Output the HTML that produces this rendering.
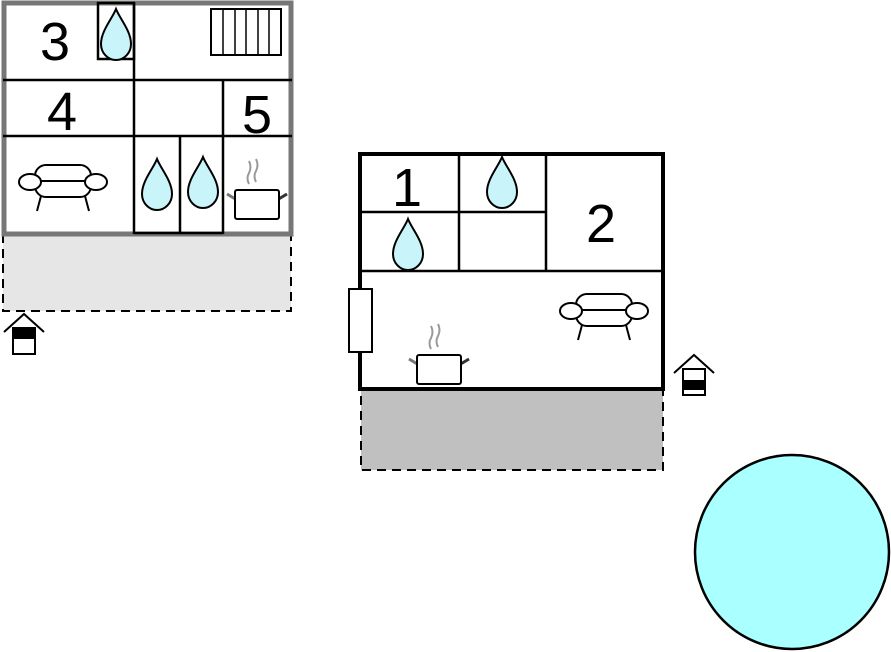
<!DOCTYPE html>
<html><head><style>body{margin:0;background:#fff}svg{display:block}</style></head><body>
<svg width="891" height="652" viewBox="0 0 891 652" xmlns="http://www.w3.org/2000/svg" font-family="Liberation Sans, sans-serif">
<defs>
<path id="drop" d="M0,-26 C-4,-16 -15,-4 -15,9 A15,16 0 0 0 15,9 C15,-4 4,-16 0,-26Z" fill="#c8f4fa" stroke="#000" stroke-width="2"/>
<g id="sofa" fill="#fff" stroke="#000" stroke-width="2">
<line x1="-22" y1="14" x2="-26" y2="29"/><line x1="22" y1="14" x2="26" y2="29"/>
<rect x="-28" y="-17" width="56" height="32" rx="11"/>
<line x1="-28" y1="-1" x2="28" y2="-1"/>
<ellipse cx="-33" cy="0" rx="11" ry="8"/><ellipse cx="33" cy="0" rx="11" ry="8"/>
</g>
<g id="pot">
<path d="M-8,-20 q-3,-6 0,-11 q3,-6 0,-12 M-1,-22 q-3,-6 0,-11 q3,-6 0,-12" fill="none" stroke="#999" stroke-width="2"/>
<line x1="-30" y1="-10" x2="-20" y2="-4" stroke="#777" stroke-width="3"/>
<line x1="20" y1="-4" x2="30" y2="-10" stroke="#333" stroke-width="3"/>
<rect x="-22" y="-14" width="44" height="29" rx="2" fill="#fff" stroke="#000" stroke-width="2"/>
</g>
<g id="house" fill="#fff" stroke="#000" stroke-width="2">
<polyline points="-20,12 0,-6 20,12" fill="none"/>
<rect x="-11" y="8" width="22" height="26"/>
</g>
</defs>

<rect x="3" y="235" width="288" height="76" fill="#e6e6e6" stroke="#000" stroke-width="2" stroke-dasharray="9,6"/>
<rect x="4" y="3" width="287" height="231" fill="#fff" stroke="#777" stroke-width="5"/>
<g stroke="#000" stroke-width="2.5" fill="none">
<line x1="3" y1="80" x2="292" y2="80"/>
<line x1="3" y1="136" x2="292" y2="136"/>
<line x1="134" y1="3" x2="134" y2="234"/>
<line x1="223" y1="80" x2="223" y2="234"/>
<line x1="180" y1="136" x2="180" y2="234"/>
<line x1="134" y1="233" x2="223" y2="233"/>
<rect x="98" y="3" width="36" height="56"/>
<rect x="211" y="9" width="70" height="46" stroke-width="2"/>
</g>
<g stroke="#000" stroke-width="1.5">
<line x1="223" y1="9" x2="223" y2="55"/><line x1="235" y1="9" x2="235" y2="55"/><line x1="246" y1="9" x2="246" y2="55"/><line x1="258" y1="9" x2="258" y2="55"/><line x1="269" y1="9" x2="269" y2="55"/>
</g>
<use href="#drop" x="116" y="35"/>
<use href="#drop" x="157" y="185"/>
<use href="#drop" x="203" y="183"/>
<use href="#sofa" x="63" y="182"/>
<use href="#pot" x="257" y="204"/>
<use href="#house" x="24" y="320"/>
<rect x="13" y="329" width="22" height="10" fill="#000"/>
<text x="55" y="60" font-size="54" text-anchor="middle">3</text>
<text x="62" y="130" font-size="54" text-anchor="middle">4</text>
<text x="257" y="133" font-size="54" text-anchor="middle">5</text>

<rect x="361" y="389" width="302" height="81" fill="#c0c0c0" stroke="#000" stroke-width="2" stroke-dasharray="9,6"/>
<rect x="360" y="154" width="303" height="235" fill="#fff" stroke="#000" stroke-width="4"/>
<g stroke="#000" stroke-width="2.5">
<line x1="360" y1="212" x2="545" y2="212"/>
<line x1="360" y1="271" x2="663" y2="271"/>
<line x1="459" y1="154" x2="459" y2="271"/>
<line x1="546" y1="154" x2="546" y2="271"/>
</g>
<rect x="349" y="289" width="23" height="63" fill="#fff" stroke="#000" stroke-width="2"/>
<use href="#drop" x="502" y="183"/>
<use href="#drop" x="408" y="245"/>
<use href="#sofa" x="604" y="311"/>
<use href="#pot" x="439" y="369"/>
<use href="#house" x="694" y="361"/>
<rect x="683" y="380" width="22" height="10" fill="#000"/>
<text x="407" y="206" font-size="54" text-anchor="middle">1</text>
<text x="601" y="242" font-size="54" text-anchor="middle">2</text>

<circle cx="792" cy="552" r="97" fill="#aaffff" stroke="#000" stroke-width="2.5"/>
</svg>
</body></html>
